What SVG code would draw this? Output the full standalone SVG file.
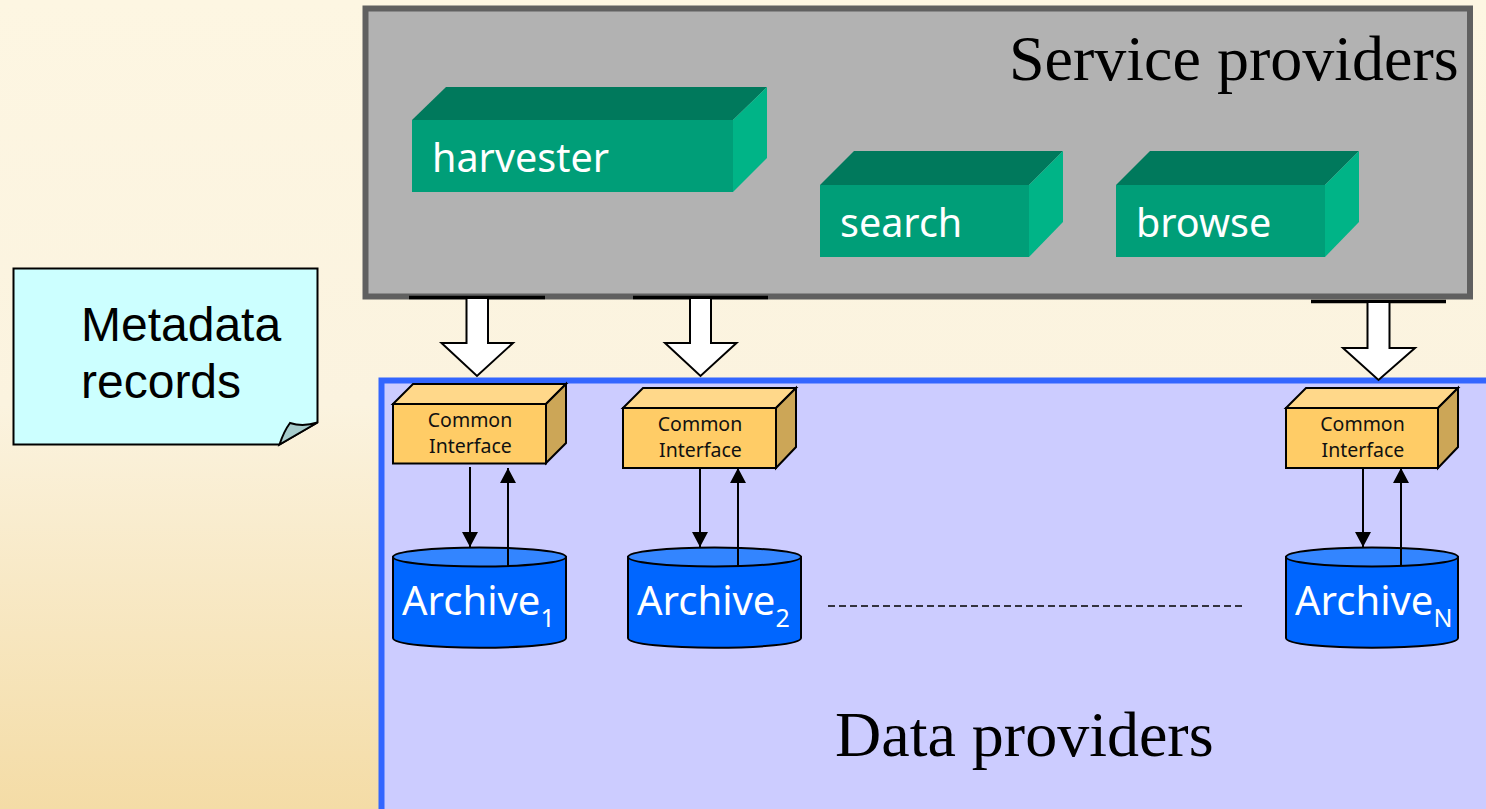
<svg xmlns="http://www.w3.org/2000/svg" width="1486" height="809" viewBox="0 0 1486 809">
<style>
.ln{stroke:#000;fill:none}
.serif{font-family:"Liberation Serif",serif;font-size:64px;fill:#000}
.g{font-family:"Noto Sans","Open Sans",sans-serif;fill:#fff;font-size:39.500px}
.ci{font-family:"Noto Sans","Open Sans",sans-serif;fill:#111;font-size:19.500px;text-anchor:middle}
.ar{font-family:"Noto Sans","Open Sans",sans-serif;fill:#fff;font-size:40px}
.sub{font-size:25px}
.gf{fill:#009E78}.gt{fill:#00795C}.gs{fill:#00B487}
.cf{fill:#FFCC66;stroke:#000;stroke-width:2}.ct{fill:#FFD88A;stroke:#000;stroke-width:2}.cs{fill:#CCA657;stroke:#000;stroke-width:2}
.cyl{fill:#0066FF;stroke:#000;stroke-width:2}.cyt{fill:#3385FF;stroke:#000;stroke-width:2}
.big{fill:#fff;stroke:#000;stroke-width:2}
</style>
<defs>
<linearGradient id="bg" x1="0" y1="0" x2="0" y2="1">
<stop offset="0" stop-color="#FDF6E2"/><stop offset="0.5" stop-color="#FBF3DF"/><stop offset="1" stop-color="#F4DCA6"/>
</linearGradient>
<marker id="ah" markerUnits="userSpaceOnUse" markerWidth="16" markerHeight="16" viewBox="0 0 16 16" refX="15" refY="8" orient="auto"><path d="M0 0L15 8L0 16Z" fill="#000"/></marker>
</defs>
<rect width="1486" height="809" fill="url(#bg)"/>
<g id="service-providers">
<rect x="365.500" y="8.500" width="1104.500" height="288" fill="#B2B2B2" stroke="#606060" stroke-width="6"/>
<text class="serif" x="1009" y="80">Service providers</text>
</g>
<g id="data-providers">
<path d="M1490 380.500H381.500V813H1490Z" fill="#CCCCFF" stroke="#3366FF" stroke-width="6"/>
<text class="serif" x="835" y="756">Data providers</text>
</g>
<g id="harvester">
<path class="gt" d="M412 120L446 87H767L733 120Z"/><path class="gs" d="M733 120L767 87V158L733 192Z"/><rect class="gf" x="412" y="120" width="321" height="72"/>
<text class="g" x="432" y="172">harvester</text>
</g>
<g id="search">
<path class="gt" d="M820 185L854 151H1063L1029 185Z"/><path class="gs" d="M1029 185L1063 151V222L1029 257Z"/><rect class="gf" x="820" y="185" width="209" height="72"/>
<text class="g" x="840" y="237">search</text>
</g>
<g id="browse">
<path class="gt" d="M1116 185L1150 151H1359L1325 185Z"/><path class="gs" d="M1325 185L1359 151V222L1325 257Z"/><rect class="gf" x="1116" y="185" width="209" height="72"/>
<text class="g" x="1136" y="237">browse</text>
</g>
<g id="metadata-records">
<path d="M13.500 268.500H317.500V422.500L279.500 444.500H13.500Z" fill="#CCFFFF" stroke="#000" stroke-width="2"/>
<path d="M279.500 444.500Q284 431 290 423Q303 427 317.500 422.500Z" fill="#A6CCCC" stroke="#000" stroke-width="2"/>
<text font-family="'Liberation Sans',Arial,sans-serif" font-size="48" fill="#000"><tspan x="81" y="341">Metadata</tspan><tspan x="81" y="398">records</tspan></text>
</g>
<g id="interface-1">
<path class="ct" d="M393 404L413 384H566L546 404Z"/><path class="cs" d="M546 404L566 384V443L546 463Z"/><rect class="cf" x="393" y="404" width="153" height="59.500"/>
<text class="ci"><tspan x="470" y="427">Common</tspan><tspan x="470.500" y="453">Interface</tspan></text>
</g>
<g id="interface-2">
<path class="ct" d="M623 408L643 388H796L776 408Z"/><path class="cs" d="M776 408L796 388V447L776 468Z"/><rect class="cf" x="623" y="408" width="153" height="60"/>
<text class="ci"><tspan x="700" y="431">Common</tspan><tspan x="700.500" y="457">Interface</tspan></text>
</g>
<g id="interface-n">
<path class="ct" d="M1286 408L1306 388H1458L1438 408Z"/><path class="cs" d="M1438 408L1458 388V447L1438 468Z"/><rect class="cf" x="1286" y="408" width="152" height="60"/>
<text class="ci"><tspan x="1362.500" y="431">Common</tspan><tspan x="1363" y="457">Interface</tspan></text>
</g>
<g id="archive-1">
<path class="cyl" d="M393 557V638C393 651 566 651 566 638V557Z"/><ellipse class="cyt" cx="479.500" cy="557" rx="86.500" ry="9.500"/>
<text class="ar" x="402" y="615">Archive<tspan class="sub" dy="12">1</tspan></text>
</g>
<g id="archive-2">
<path class="cyl" d="M628 557V638C628 651 801 651 801 638V557Z"/><ellipse class="cyt" cx="714.500" cy="557" rx="86.500" ry="9.500"/>
<text class="ar" x="637" y="615">Archive<tspan class="sub" dy="12">2</tspan></text>
</g>
<g id="archive-n">
<path class="cyl" d="M1286 557V638C1286 651 1458 651 1458 638V557Z"/><ellipse class="cyt" cx="1372" cy="557" rx="86" ry="9.500"/>
<text class="ar" x="1295" y="615">Archive<tspan class="sub" dy="12">N</tspan></text>
</g>
<g id="connectors">
<path class="ln" stroke-width="3.500" d="M409 297.500H545M633 297.500H768M1311 301.500H1446"/>
<path class="big" d="M466.500 298V343H441.500L477 376L513 343H488V298Z"/>
<path class="big" d="M690 298V343H665L700.500 376L736.500 343H711V298Z"/>
<path class="big" d="M1367.500 302V348H1343L1378.500 380L1415 348H1389.500V302Z"/>
<g class="ln" stroke-width="2" marker-end="url(#ah)">
<path d="M470 467V547"/><path d="M508 566V468"/>
<path d="M700 468V547"/><path d="M738 566V468"/>
<path d="M1363 468V547"/><path d="M1401 566V468"/>
</g>
<path class="ln" stroke-width="1.500" stroke-dasharray="7 4" d="M828 606H1242"/>
</g>
</svg>
